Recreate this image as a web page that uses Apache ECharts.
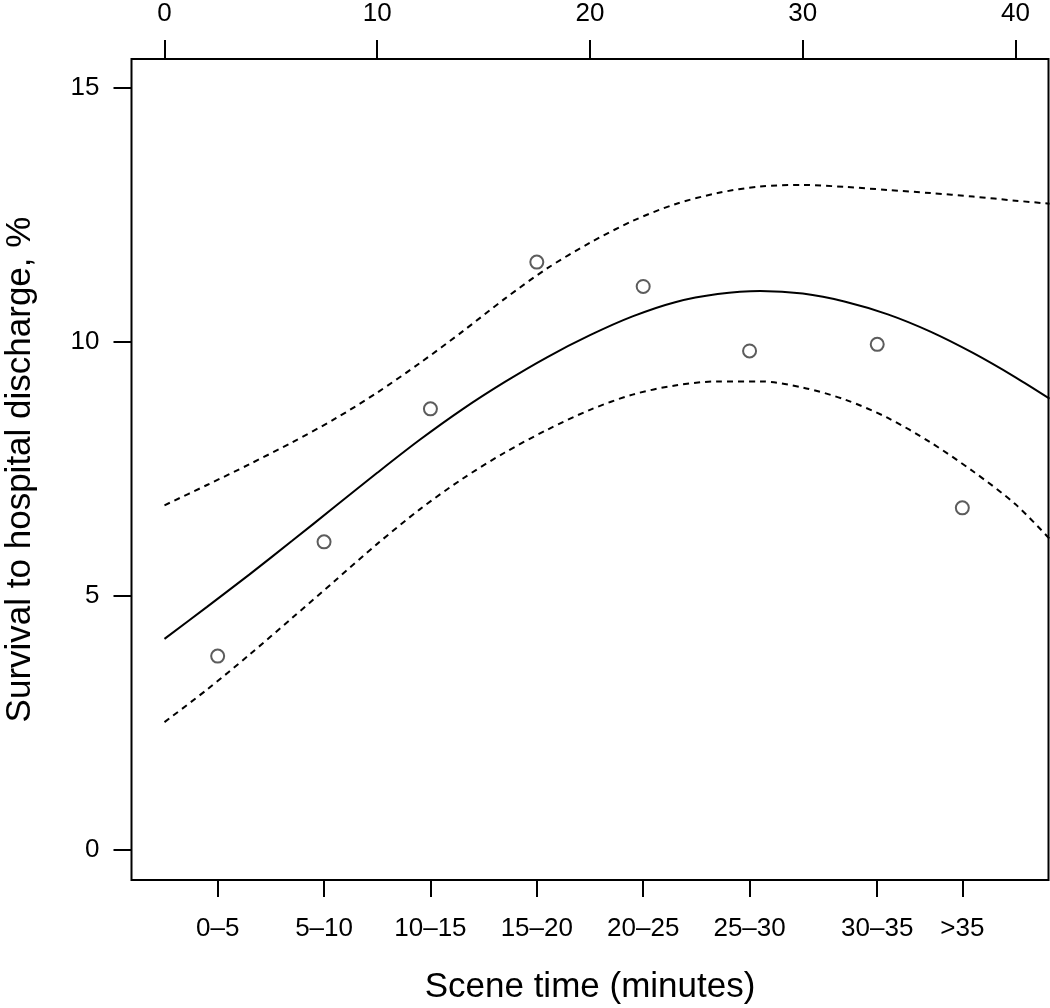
<!DOCTYPE html>
<html>
<head>
<meta charset="utf-8">
<script src="https://cdn.jsdelivr.net/npm/echarts@6/dist/echarts.min.js"></script>
<style>
  html, body { margin: 0; padding: 0; background: #fff; }
  #chart { width: 1050px; height: 1008px; }
</style>
</head>
<body>
<div id="chart"></div>
<script>
// ---- data ----
var categories = ['0\u20135', '5\u201310', '10\u201315', '15\u201320', '20\u201325', '25\u201330', '30\u201335', '>35'];
var categoryPositions = [2.5, 7.5, 12.5, 17.5, 22.5, 27.5, 33.5, 37.5];
var observedSurvival = [3.81, 6.06, 8.68, 11.57, 11.09, 9.82, 9.95, 6.73];

var topTicks = [0, 10, 20, 30, 40];
var yTicks = [0, 5, 10, 15];

var curveX     = [0, 2, 4, 6, 8, 10, 12, 14, 16, 18, 20, 22, 24, 26, 28, 30, 32, 34, 36, 38, 40, 41.6];
var fitted     = [4.15, 4.78, 5.42, 6.08, 6.75, 7.42, 8.07, 8.67, 9.21, 9.70, 10.13, 10.50, 10.78, 10.94, 11.00, 10.95, 10.79, 10.54, 10.20, 9.78, 9.30, 8.88];
var upperBound = [6.78, 7.18, 7.59, 8.02, 8.48, 9.00, 9.58, 10.20, 10.85, 11.45, 11.95, 12.38, 12.71, 12.93, 13.06, 13.09, 13.05, 12.99, 12.93, 12.86, 12.78, 12.72];
var lowerBound = [2.51, 3.15, 3.84, 4.56, 5.29, 6.02, 6.70, 7.30, 7.82, 8.27, 8.66, 8.96, 9.14, 9.22, 9.22, 9.10, 8.86, 8.50, 8.02, 7.45, 6.80, 6.12];

function zip(xs, ys) { return xs.map(function (x, i) { return [x, ys[i]]; }); }

var FONT = '"Liberation Sans", Arial, Helvetica, sans-serif';
var X_MIN = -1.55, X_MAX = 41.55;

var chart = echarts.init(document.getElementById('chart'), null, { renderer: 'canvas' });
chart.setOption({
  backgroundColor: '#ffffff',
  animation: false,
  grid: {
    left: 131.5, right: 1.5, top: 59, bottom: 128,
    show: true, borderColor: '#000', borderWidth: 2, backgroundColor: 'transparent',
    containLabel: false, outerBoundsMode: 'none'
  },
  xAxis: [
    {
      type: 'value', position: 'bottom', min: X_MIN, max: X_MAX,
      name: 'Scene time (minutes)', nameLocation: 'middle', nameGap: 90,
      nameTextStyle: { fontFamily: FONT, fontSize: 35, color: '#000' },
      axisLine: { show: false, onZero: false },
      splitLine: { show: false },
      axisTick: { show: true, inside: false, length: 17, customValues: categoryPositions, lineStyle: { color: '#000', width: 2 } },
      axisLabel: {
        show: true, margin: 36, fontFamily: FONT, fontSize: 26, color: '#000',
        customValues: categoryPositions,
        formatter: function (v) {
          var i = categoryPositions.indexOf(v);
          return i >= 0 ? categories[i] : '';
        }
      }
    },
    {
      type: 'value', position: 'top', min: X_MIN, max: X_MAX,
      axisLine: { show: false, onZero: false },
      splitLine: { show: false },
      axisTick: { show: true, inside: false, length: 19, customValues: topTicks, lineStyle: { color: '#000', width: 2 } },
      axisLabel: { show: true, margin: 32, fontFamily: FONT, fontSize: 26, color: '#000', customValues: topTicks }
    }
  ],
  yAxis: {
    type: 'value', min: -0.6, max: 15.57,
    name: 'Survival to hospital discharge, %', nameLocation: 'middle', nameGap: 94,
    nameTextStyle: { fontFamily: FONT, fontSize: 35, color: '#000' },
    axisLine: { show: false, onZero: false },
    splitLine: { show: false },
    axisTick: { show: true, inside: false, length: 18, customValues: yTicks, lineStyle: { color: '#000', width: 2 } },
    axisLabel: { show: true, margin: 32, fontFamily: FONT, fontSize: 26, color: '#000', customValues: yTicks }
  },
  series: [
    {
      name: 'Fitted', type: 'line', xAxisIndex: 0, data: zip(curveX, fitted),
      smooth: 0.3, showSymbol: false, symbol: 'none', clip: true,
      lineStyle: { color: '#000', width: 2, type: 'solid' }
    },
    {
      name: 'Upper', type: 'line', xAxisIndex: 0, data: zip(curveX, upperBound),
      smooth: 0.3, showSymbol: false, symbol: 'none', clip: true,
      lineStyle: { color: '#000', width: 2, type: [6, 5] }
    },
    {
      name: 'Lower', type: 'line', xAxisIndex: 0, data: zip(curveX, lowerBound),
      smooth: 0.3, showSymbol: false, symbol: 'none', clip: true,
      lineStyle: { color: '#000', width: 2, type: [6, 5] }
    },
    {
      name: 'Observed', type: 'scatter', xAxisIndex: 0, data: zip(categoryPositions, observedSurvival),
      symbol: 'circle', symbolSize: 13,
      itemStyle: { color: 'rgba(255,255,255,0)', borderColor: '#333', borderWidth: 2 }
    }
  ]
});
</script>
</body>
</html>
